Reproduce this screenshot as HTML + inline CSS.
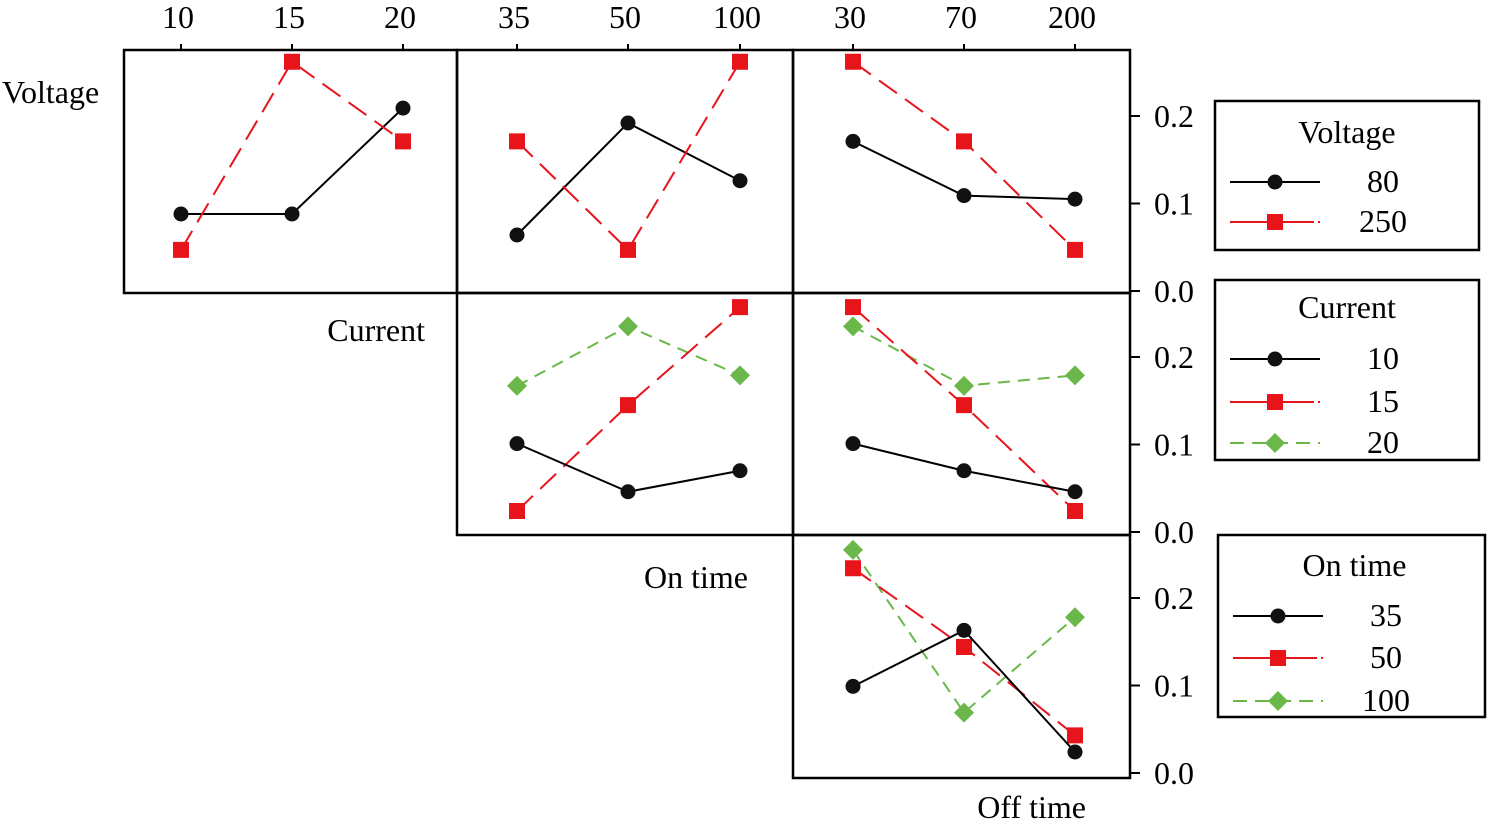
<!DOCTYPE html>
<html><head><meta charset="utf-8"><style>
body{margin:0;background:#fff;}
svg{display:block;font-family:"Liberation Serif",serif;}
</style></head><body>
<svg id="chart" width="1488" height="829"></svg>
<script>
const NS="http://www.w3.org/2000/svg";
const svg=document.getElementById('chart');
// data
const voltageLevels=["80","250"];
const currentLevels=["10","15","20"];
const onTimeLevels=["35","50","100"];
const offTimeLevels=["30","70","200"];
const vByCurrent80=[0.088,0.088,0.209];
const vByCurrent250=[0.047,0.262,0.171];
const vByOn80=[0.064,0.192,0.126];
const vByOn250=[0.171,0.047,0.262];
const vByOff80=[0.171,0.109,0.105];
const vByOff250=[0.262,0.171,0.047];
const cByOn10=[0.101,0.046,0.070];
const cByOn15=[0.024,0.145,0.257];
const cByOn20=[0.167,0.235,0.179];
const cByOff10=[0.101,0.070,0.046];
const cByOff15=[0.257,0.145,0.024];
const cByOff20=[0.235,0.167,0.179];
const oByOff35=[0.099,0.163,0.024];
const oByOff50=[0.234,0.144,0.043];
const oByOff100=[0.255,0.069,0.178];
const yTicks=[0.0,0.1,0.2];

function el(tag,attrs,parent){const e=document.createElementNS(NS,tag);for(const k in attrs)e.setAttribute(k,attrs[k]);(parent||svg).appendChild(e);return e;}
function txt(x,y,s,anchor,name){const t=el('text',{x:x,y:y,'font-size':32,'text-anchor':anchor||'middle',fill:'#000'});t.textContent=s;


return t;}

const colX=[[181,292,403],[517,628,740],[853,964,1075]];
const colBox=[[124,457],[457,793],[793,1130]];
const rowBox=[[50,293],[293,535],[535,778]];
const rowBase=[291,532,773];
const pxPerUnit=875;
function yOf(r,v){return rowBase[r]-v*pxPerUnit;}

const styles={
 black:{stroke:'#000',dash:null,fill:'#111',marker:'circle'},
 red:{stroke:'#e8141c',dash:'22,10',fill:'#e8141c',marker:'square'},
 green:{stroke:'#6ab84a',dash:'12,8',fill:'#6ab84a',marker:'diamond'}
};
function marker(x,y,st,name){
 let m;
 if(st.marker==='circle')m=el('circle',{cx:x,cy:y,r:7.5,fill:st.fill});
 else if(st.marker==='square')m=el('rect',{x:x-8,y:y-8,width:16,height:16,fill:st.fill});
 else m=el('polygon',{points:`${x},${y-10} ${x+10},${y} ${x},${y+10} ${x-10},${y}`,fill:st.fill});
 
 
}
function series(r,c,vals,key,name){
 const st=styles[key];
 const pts=vals.map((v,i)=>[colX[c][i],yOf(r,v)]);
 const p=el('polyline',{points:pts.map(p=>p.join(',')).join(' '),fill:'none',stroke:st.stroke,'stroke-width':2});
 if(st.dash)p.setAttribute('stroke-dasharray',st.dash);
 
 
 pts.forEach((q,i)=>marker(q[0],q[1],st,name+'-point-'+i));
}
const panels=[[0,0],[0,1],[0,2],[1,1],[1,2],[2,2]];
panels.forEach(([r,c])=>{
 const b=el('rect',{x:colBox[c][0],y:rowBox[r][0],width:colBox[c][1]-colBox[c][0],height:rowBox[r][1]-rowBox[r][0],fill:'none',stroke:'#000','stroke-width':2.5});
 
 
});
const topLabels=[currentLevels,onTimeLevels,offTimeLevels];
topLabels.forEach((arr,c)=>arr.forEach((s,i)=>{txt(colX[c][i]-3,28,s,'middle','x-tick-label');
 const t=el('line',{x1:colX[c][i],y1:44,x2:colX[c][i],y2:50,stroke:'#000','stroke-width':2});
 
 
}));
rowBase.forEach((base,r)=>{
 yTicks.forEach(v=>{
  const y=yOf(r,v);
  const t=el('line',{x1:1130,y1:y,x2:1140,y2:y,stroke:'#000','stroke-width':2});
  
  
  txt(1154,y+11,v.toFixed(1),'start','y-tick-label');
 });
});
txt(2,103,'Voltage','start','row-label-voltage');
txt(425,341,'Current','end','row-label-current');
txt(748,588,'On time','end','row-label-on-time');
txt(1086,818,'Off time','end','row-label-off-time');
series(0,0,vByCurrent80,'black','voltage-80-by-current');
series(0,0,vByCurrent250,'red','voltage-250-by-current');
series(0,1,vByOn80,'black','voltage-80-by-on-time');
series(0,1,vByOn250,'red','voltage-250-by-on-time');
series(0,2,vByOff80,'black','voltage-80-by-off-time');
series(0,2,vByOff250,'red','voltage-250-by-off-time');
series(1,1,cByOn20,'green','current-20-by-on-time');
series(1,1,cByOn15,'red','current-15-by-on-time');
series(1,1,cByOn10,'black','current-10-by-on-time');
series(1,2,cByOff20,'green','current-20-by-off-time');
series(1,2,cByOff15,'red','current-15-by-off-time');
series(1,2,cByOff10,'black','current-10-by-off-time');
series(2,2,oByOff100,'green','on-100-by-off-time');
series(2,2,oByOff50,'red','on-50-by-off-time');
series(2,2,oByOff35,'black','on-35-by-off-time');
function legend(x1,y1,x2,y2,title,titleY,levels,keys,rowYs,name){
 const b=el('rect',{x:x1,y:y1,width:x2-x1,height:y2-y1,fill:'none',stroke:'#000','stroke-width':2.5});
 
 
 txt((x1+x2)/2+(x1===1218?3:0),titleY,title,'middle',name+'-title');
 levels.forEach((s,i)=>{
  const st=styles[keys[i]];const y=rowYs[i];
  const l=el('line',{x1:x1+15,y1:y,x2:x1+105,y2:y,stroke:st.stroke,'stroke-width':2});
  if(st.dash)l.setAttribute('stroke-dasharray',keys[i]==='green'?'14,8':'40,4');
  
  
  marker(x1+60,y,st,name+'-marker');
  txt(x1+168,y+10,s,'middle',name+'-entry');
 });
}
legend(1215,101,1479,250,'Voltage',143,voltageLevels,['black','red'],[182,222],'legend-voltage');
legend(1215,280,1479,460,'Current',318,currentLevels,['black','red','green'],[359,402,443],'legend-current');
legend(1218,535,1485,717,'On time',576,onTimeLevels,['black','red','green'],[616,658,701],'legend-on-time');
</script>
</body></html>
